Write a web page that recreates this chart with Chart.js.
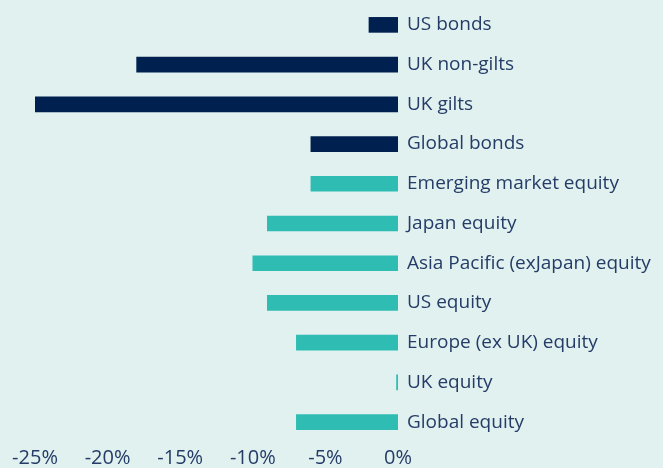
<!DOCTYPE html>
<html>
<head>
<meta charset="utf-8">
<script src="https://cdn.jsdelivr.net/npm/chart.js@4"></script>
<style>
  html, body { margin: 0; padding: 0; background: #e1f1f0; }
  canvas { display: block; }
</style>
</head>
<body>
<canvas id="returnsChart" width="663" height="468"></canvas>
<script>
const categories = [
  'US bonds',
  'UK non-gilts',
  'UK gilts',
  'Global bonds',
  'Emerging market equity',
  'Japan equity',
  'Asia Pacific (exJapan) equity',
  'US equity',
  'Europe (ex UK) equity',
  'UK equity',
  'Global equity'
];
const returns = [-2, -18, -25, -6, -6, -9, -10, -9, -7, -0.1, -7];
const assetClass = ['bond', 'bond', 'bond', 'bond', 'equity', 'equity', 'equity', 'equity', 'equity', 'equity', 'equity'];
const xTicks = [-25, -20, -15, -10, -5, 0];

const colors = { bond: '#00214f', equity: '#2fbdb3' };
const textColor = '#243c66';

const ctx = document.getElementById('returnsChart').getContext('2d');

new Chart(ctx, {
  type: 'bar',
  data: {
    labels: categories,
    datasets: [{
      data: returns,
      backgroundColor: assetClass.map((c) => colors[c]),
      barThickness: 15,
      borderWidth: 0
    }]
  },
  options: {
    indexAxis: 'y',
    responsive: false,
    animation: false,
    layout: { padding: { left: 35, top: 5, right: 0, bottom: 0 } },
    plugins: {
      legend: { display: false },
      tooltip: { enabled: false }
    },
    scales: {
      x: {
        min: -25,
        max: 0,
        afterBuildTicks: (scale) => {
          scale.ticks = xTicks.map((v) => ({ value: v }));
        },
        afterFit: (scale) => { scale.height = 26; },
        grid: { display: false, drawTicks: false },
        border: { display: false },
        ticks: {
          color: textColor,
          font: { family: 'Open Sans', size: 20 },
          padding: 4,
          maxRotation: 0,
          autoSkip: false,
          callback: (v) => `${v}%`
        }
      },
      y: {
        position: 'right',
        afterFit: (scale) => {
          // labels sit beside the bars, so no extra room above/below is needed
          scale.width = 265;
          scale.paddingTop = 0;
          scale.paddingBottom = 0;
        },
        grid: { display: false, drawTicks: false },
        border: { display: false },
        ticks: {
          color: textColor,
          font: { family: 'Open Sans', size: 19 },
          padding: 9,
          crossAlign: 'near',
          autoSkip: false
        }
      }
    }
  }
});
</script>
</body>
</html>
